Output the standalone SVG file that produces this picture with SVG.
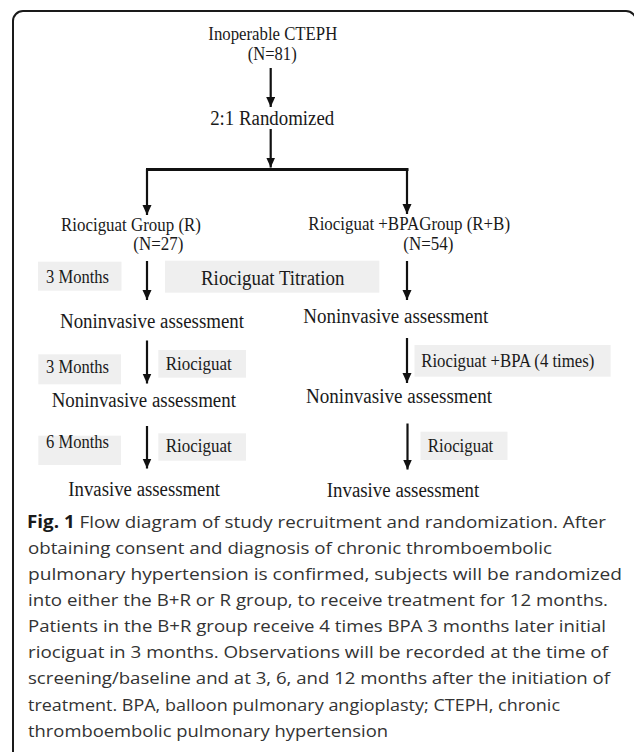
<svg xmlns="http://www.w3.org/2000/svg" width="634" height="752" viewBox="0 0 634 752">
<style>
.t{font-family:"Liberation Serif","Times New Roman",serif;fill:#1a1a1a;}
.s17{font-size:18px;}
.s19{font-size:20.5px;}
.box{fill:#efefef;stroke:none;}
.ln{stroke:#111;stroke-width:2.2;fill:none;}
.cap{font-family:"Open Sans","Noto Sans","Liberation Sans",sans-serif;font-size:17px;fill:#333;}
</style>
<defs>
<marker id="ah" markerUnits="userSpaceOnUse" markerWidth="10" markerHeight="10" refX="10" refY="4.5" orient="auto">
<path d="M0,0 L10,4.5 L0,9 z" fill="#111"/>
</marker>
</defs>
<rect x="13" y="11" width="623" height="760" rx="10" ry="10" fill="#fff" stroke="#1a1a1a" stroke-width="2"/>

<g id="connectors">
<line class="ln" x1="270.7" y1="68" x2="270.7" y2="107" marker-end="url(#ah)"/>
<line class="ln" x1="270.7" y1="129" x2="270.7" y2="167.5" marker-end="url(#ah)"/>
<line x1="146" y1="169.5" x2="408.5" y2="169.5" stroke="#111" stroke-width="3"/>
<line class="ln" x1="147" y1="169" x2="147" y2="215" marker-end="url(#ah)"/>
<line class="ln" x1="407" y1="169" x2="407" y2="214" marker-end="url(#ah)"/>
<line class="ln" x1="147" y1="261" x2="147" y2="300" marker-end="url(#ah)"/>
<line class="ln" x1="407" y1="261" x2="407" y2="300" marker-end="url(#ah)"/>
<line class="ln" x1="147" y1="340.5" x2="147" y2="383.5" marker-end="url(#ah)"/>
<line class="ln" x1="407" y1="338" x2="407" y2="383" marker-end="url(#ah)"/>
<line class="ln" x1="147" y1="426" x2="147" y2="468.5" marker-end="url(#ah)"/>
<line class="ln" x1="407.5" y1="423.5" x2="407.5" y2="469.5" marker-end="url(#ah)"/>
</g>

<g id="start">
<text class="t s17" x="272.8" y="40" text-anchor="middle" textLength="129" lengthAdjust="spacingAndGlyphs">Inoperable CTEPH</text>
<text class="t s17" x="272.2" y="60" text-anchor="middle" textLength="49" lengthAdjust="spacingAndGlyphs">(N=81)</text>
</g>
<g id="randomized">
<text class="t s19" x="272.2" y="125" text-anchor="middle" textLength="124" lengthAdjust="spacingAndGlyphs">2:1 Randomized</text>
</g>
<g id="group-r">
<text class="t s17" x="131" y="231" text-anchor="middle" textLength="140" lengthAdjust="spacingAndGlyphs">Riociguat Group (R)</text>
<text class="t s17" x="158.3" y="250" text-anchor="middle" textLength="50" lengthAdjust="spacingAndGlyphs">(N=27)</text>
</g>
<g id="group-rb">
<text class="t s17" x="409.2" y="230" text-anchor="middle" textLength="201.7" lengthAdjust="spacingAndGlyphs">Riociguat +BPAGroup (R+B)</text>
<text class="t s17" x="428.3" y="250" text-anchor="middle" textLength="50" lengthAdjust="spacingAndGlyphs">(N=54)</text>
</g>
<g id="label-3months-1">
<rect class="box" x="38" y="261.7" width="83.5" height="29"/>
<text class="t s17" x="46" y="282.7" textLength="63" lengthAdjust="spacingAndGlyphs">3 Months</text>
</g>
<g id="label-titration">
<rect class="box" x="165" y="260.7" width="214.3" height="32"/>
<text class="t s19" x="201" y="284.5" textLength="143.5" lengthAdjust="spacingAndGlyphs">Riociguat Titration</text>
</g>
<g id="r-noninvasive-1">
<text class="t s19" x="152" y="328.3" text-anchor="middle" textLength="184" lengthAdjust="spacingAndGlyphs">Noninvasive assessment</text>
</g>
<g id="rb-noninvasive-1">
<text class="t s19" x="395.8" y="323.3" text-anchor="middle" textLength="185" lengthAdjust="spacingAndGlyphs">Noninvasive assessment</text>
</g>
<g id="label-3months-2">
<rect class="box" x="38.3" y="354.3" width="82.7" height="30"/>
<text class="t s17" x="46" y="373.3" textLength="63" lengthAdjust="spacingAndGlyphs">3 Months</text>
</g>
<g id="label-riociguat-r1">
<rect class="box" x="158.3" y="350" width="87.7" height="27.7"/>
<text class="t s17" x="165.7" y="370" textLength="66" lengthAdjust="spacingAndGlyphs">Riociguat</text>
</g>
<g id="label-riociguat-bpa">
<rect class="box" x="414.5" y="345" width="196.1" height="31.7"/>
<text class="t s17" x="421.3" y="366.7" textLength="173" lengthAdjust="spacingAndGlyphs">Riociguat +BPA (4 times)</text>
</g>
<g id="r-noninvasive-2">
<text class="t s19" x="143.8" y="406.7" text-anchor="middle" textLength="184.3" lengthAdjust="spacingAndGlyphs">Noninvasive assessment</text>
</g>
<g id="rb-noninvasive-2">
<text class="t s19" x="399" y="402.7" text-anchor="middle" textLength="186" lengthAdjust="spacingAndGlyphs">Noninvasive assessment</text>
</g>
<g id="label-6months">
<rect class="box" x="38.3" y="435.7" width="82.7" height="29.3"/>
<text class="t s17" x="46" y="447.5" textLength="63" lengthAdjust="spacingAndGlyphs">6 Months</text>
</g>
<g id="label-riociguat-r2">
<rect class="box" x="158.3" y="433.3" width="87.7" height="27.4"/>
<text class="t s17" x="165.7" y="451.7" textLength="66" lengthAdjust="spacingAndGlyphs">Riociguat</text>
</g>
<g id="label-riociguat-rb">
<rect class="box" x="420.5" y="431.7" width="87" height="28.3"/>
<text class="t s17" x="427.8" y="451.7" textLength="65.5" lengthAdjust="spacingAndGlyphs">Riociguat</text>
</g>
<g id="r-invasive">
<text class="t s19" x="144.2" y="496" text-anchor="middle" textLength="151.7" lengthAdjust="spacingAndGlyphs">Invasive assessment</text>
</g>
<g id="rb-invasive">
<text class="t s19" x="403" y="496.7" text-anchor="middle" textLength="152.5" lengthAdjust="spacingAndGlyphs">Invasive assessment</text>
</g>

<g id="caption">
<text class="cap" x="27" y="527.5" textLength="579" lengthAdjust="spacingAndGlyphs"><tspan font-weight="bold" fill="#1a1a1a">Fig. 1</tspan> Flow diagram of study recruitment and randomization. After</text>
<text class="cap" x="28" y="553.6" textLength="524" lengthAdjust="spacingAndGlyphs">obtaining consent and diagnosis of chronic thromboembolic</text>
<text class="cap" x="28" y="579.8" textLength="594" lengthAdjust="spacingAndGlyphs">pulmonary hypertension is confirmed, subjects will be randomized</text>
<text class="cap" x="28" y="606" textLength="580" lengthAdjust="spacingAndGlyphs">into either the B+R or R group, to receive treatment for 12 months.</text>
<text class="cap" x="28" y="632.1" textLength="578" lengthAdjust="spacingAndGlyphs">Patients in the B+R group receive 4 times BPA 3 months later initial</text>
<text class="cap" x="28" y="658.3" textLength="580" lengthAdjust="spacingAndGlyphs">riociguat in 3 months. Observations will be recorded at the time of</text>
<text class="cap" x="28" y="684.4" textLength="582" lengthAdjust="spacingAndGlyphs">screening/baseline and at 3, 6, and 12 months after the initiation of</text>
<text class="cap" x="28" y="710.6" textLength="532" lengthAdjust="spacingAndGlyphs">treatment. BPA, balloon pulmonary angioplasty; CTEPH, chronic</text>
<text class="cap" x="28" y="736.7" textLength="360" lengthAdjust="spacingAndGlyphs">thromboembolic pulmonary hypertension</text>
</g>
</svg>
